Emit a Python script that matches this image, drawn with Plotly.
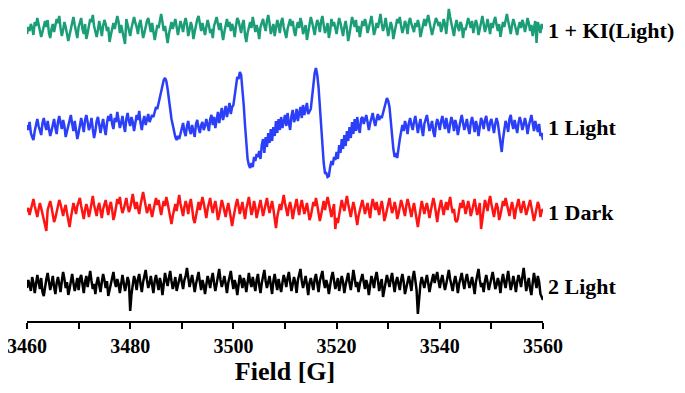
import plotly.graph_objects as go

# EPR spectra, field axis 3460-3560 G sampled every 0.25 G
field_start = 3460
field_step = 0.25

labels = ["1 + KI(Light)", "1 Light", "1 Dark", "2 Light"]
colors = ["#1b9e77", "#2a3ff7", "#ff1414", "#000000"]
offsets = [291, 194, 109, 35]

ki_light = [
    -4, 3, -1, 6, 2, -5, 8, 4, 12, 6, 1, -7, -2, 5, 9, 3, 10, -3, -8, 1,
    6, -2, 4, 11, 7, 14, 2, -6, 0, 8, 3, -4, -11, -5, 2, 9, 13, 5, -1, -8,
    3, 7, 12, 1, -4, 6, -9, -3, 5, 11, 8, 15, 4, -2, -7, 0, 9, 2, -6, 4,
    10, 6, -1, 3, -12, -5, 2, 7, 1, 9, 14, 8, -3, 5, -1, -9, -14, 11, 6, 0,
    -6, 2, 8, 13, 7, 3, -4, 6, 10, 1, -8, -3, 4, 9, 12, 5, -2, 7, 0, -10,
    -3, 5, 2, 10, 16, 8, -1, 4, -7, -13, -4, 3, 8, 1, 6, 11, 3, -5, 2, 9,
    4, -2, 7, 12, 5, -6, 0, 8, 3, -9, -2, 6, 11, 14, 4, -1, 7, 2, -5, 3,
    10, 5, -3, 1, -8, 4, 9, 13, 6, 0, 7, -4, -10, -2, 5, 11, 3, 8, -1, 6,
    2, -7, 4, 12, 9, 1, -3, 6, 10, -5, -12, -3, 4, 8, 2, 13, 6, -2, 5, 0,
    -9, 3, 7, 11, 4, -1, 9, 15, 7, -4, 1, 6, -6, 2, 10, 5, -3, 8, 12, 3,
    -2, -8, 1, 6, 11, 4, 9, -1, -6, 3, 8, 2, 12, 7, -4, 0, 5, -10, -3, 6,
    13, 8, 2, -5, 4, 10, 6, -2, 9, 14, 5, -3, 1, 7, -8, -1, 11, 4, 8, 0,
    -4, 5, 12, 7, 2, -6, 3, 9, 1, -11, -4, 6, 13, 8, 3, 10, -2, 4, -7, 1,
    9, 4, 11, 6, -3, 2, 8, 14, 5, -5, 0, 7, 2, 10, 16, 6, -1, 4, 12, 3,
    -6, 1, 8, 3, -9, -2, 5, 11, 7, 13, 4, -3, 2, 9, 5, -4, 8, 12, 6, 1,
    -2, 7, 3, 10, 5, -7, 0, 6, 11, 4, 9, 15, 8, 3, -5, 1, 7, 12, 9, 4,
    8, -2, 3, 11, 6, -4, 9, 21, 13, 7, 1, -6, 4, 10, 3, -1, 8, 5, -8, 2,
    0, 6, 12, 7, 2, 9, -3, 4, 10, 5, -5, 1, 8, 14, 6, -2, 3, 11, 4, -4,
    7, 2, 9, 13, 5, -1, 6, -7, 1, 8, 3, 10, 16, 9, 2, -4, 5, 11, 6, 0,
    -5, 3, 8, 2, 10, 6, -2, 4, 12, 7, -1, 5, -6, 2, 9, -13, 8, 3, -3, 6,
    1,
]

light_1 = [
    2, -3, 5, -6, -10, -13, -4, 3, 8, 1, -5, -8, 4, 9, 2, -3, 6, -2, -9, -4,
    3, 8, -1, -7, 5, 11, 4, -2, 7, 1, -10, -5, 2, 8, 12, 3, -4, 6, -3, -12,
    -6, 4, 9, 2, -5, 7, 12, 5, -3, 1, 9, -2, -11, -4, 6, 10, 3, -6, 2, 8,
    -1, -8, 4, 11, 6, 13, 3, -2, 9, 5, 15, 8, -1, 4, 11, 2, -5, 8, 14, 6,
    1, 10, 5, -4, 3, 12, 7, 16, 4, -3, 6, 11, 2, 9, 13, 5, 8, 12, 10, 16,
    20, 18, 24, 32, 38, 44, 47, 49, 46, 38, 28, 16, 8, 2, -5, -10, -13, -9, -12, -6,
    -2, 4, -5, -9, 1, 6, -3, -7, 2, -4, -10, 3, 7, -1, -6, 2, 5, -3, 1, 8,
    3, -4, 8, 12, 2, 10, -1, 8, 15, 4, 12, 19, 7, 15, 21, 10, 17, 24, 13, 20,
    22, 30, 42, 50, 48, 55, 52, 40, 22, 2, -18, -32, -38, -41, -36, -40, -30, -34, -27, -30,
    -24, -32, -18, -12, -26, -10, -20, -6, -16, -2, -14, 0, -9, 6, -6, 8, -3, 10, -1, 4,
    12, 1, 14, 4, -3, 11, 17, 5, 9, 18, 6, 14, 20, 9, 22, 12, 18, 24, 13, 16,
    18, 30, 45, 54, 59, 52, 40, 20, 0, -20, -36, -46, -46, -50, -49, -40, -34, -38, -30, -33,
    -25, -32, -18, -26, -12, -22, -8, -19, -4, -14, 0, -11, 5, -7, 8, -4, 10, -1, -6, 8,
    10, 3, 7, 12, 5, -3, 4, 9, 14, 6, 1, 8, 13, 7, 11, 9, 14, 18, 24, 29,
    26, 20, 6, -10, -22, -30, -26, -31, -20, -12, -5, 2, -4, 6, 1, -7, 4, 9, 2, -3,
    5, 11, 3, -6, 2, 8, -2, -9, 3, 7, 12, 4, -4, 1, 6, -5, -10, 2, 8, 3,
    -3, 6, 11, 4, -2, 9, 1, -6, 3, 10, 5, -4, 7, 2, -8, 1, 6, 12, 4, -3,
    2, 8, -1, -7, 4, 10, 3, -5, 6, 1, -9, 3, 9, 5, -2, 7, 11, 2, -4, 5,
    8, 1, -6, 3, 9, 4, -8, -16, -25, -12, -3, 6, 2, -5, 8, 12, 3, -2, 7, 1,
    -6, 4, 10, 5, -3, 2, 9, 3, -7, 1, 8, 12, 4, -4, 6, 1, -5, 3, -9, -6,
    -13,
]

dark_1 = [
    0, 4, -3, 2, 8, 13, 6, 1, -5, 3, 9, 4, -2, -8, -12, -19, 2, 7, 11, 5,
    -3, -10, -6, 1, 5, 12, 8, 2, -4, 3, 7, -1, -9, -15, -6, 3, 9, 4, -2, 6,
    10, 14, 6, -1, -7, 2, 8, 3, -5, 1, 11, 16, 7, 2, -4, 5, 9, 1, -6, 3,
    7, 12, 4, -3, 6, 10, 2, -8, -3, 4, 13, 8, 15, 5, -1, 3, 9, 14, 6, 0,
    4, 11, 18, 9, 3, 10, 5, -2, 7, 12, 20, 13, 6, -1, 3, 8, 1, -5, 2, 9,
    14, 7, 12, 4, -3, 5, 11, 6, 15, 9, 2, -6, -12, -4, 3, 8, 1, 10, 17, 8,
    3, -4, 5, 11, 6, -2, 8, 13, 4, -7, -11, -3, 5, 10, 2, 7, 15, 9, 1, -6,
    3, 9, 14, 5, -1, 6, 11, 3, -8, -3, 4, 12, 7, 1, -5, 3, 9, 2, -9, -14,
    -6, 2, 8, 13, 5, -2, 4, 10, 1, -7, 3, 9, 15, 6, -3, 2, 11, 5, -6, 0,
    7, 12, 4, -4, 2, 9, 14, 6, -1, 5, 11, 3, -10, -16, -5, 3, 8, 2, 11, 17,
    9, 2, -4, 5, 10, 3, -7, 1, 8, 13, 4, -3, 6, 12, 5, -2, 3, 9, 1, -8,
    -4, 3, 10, 6, 14, 7, -1, -9, -3, 4, 11, 2, 7, 15, 9, 1, -5, 2, 8, -17,
    -6, -11, -2, 5, 12, 6, 1, 9, 16, 8, 2, -5, 3, 10, 4, -8, -13, -4, 3, 7,
    12, 5, -2, 4, 9, 1, -6, 6, 13, 7, 2, 10, 4, -3, 5, 11, 3, -9, -4, 2,
    8, 14, 6, -1, 3, 10, 4, -7, -2, 5, 12, 7, 1, -4, 6, 13, 8, 2, -5, 3,
    9, 1, -8, -15, -6, 3, 11, 5, -2, 4, 9, 2, -6, 1, 7, 14, 8, -4, -10, 0,
    6, 12, 4, -3, 5, 10, 2, 8, 15, 6, -1, 3, -8, -10, -7, 2, 9, 4, 12, 6,
    -2, 4, 11, 5, -4, 1, 8, 13, 5, -3, 2, 9, -17, -6, 5, 12, 7, 1, 10, 16,
    8, 2, -5, 3, 9, 4, -8, -3, 5, 11, 6, 14, 8, 1, -4, 4, 10, 3, -7, 2,
    8, 13, 5, -1, 6, 11, 4, -3, 2, 9, 12, 5, -2, -9, -3, 4, 10, 6, -5, 1,
    3,
]

light_2 = [
    -2, 6, 1, -5, 9, 3, -7, 2, 11, 4, -3, 8, -6, -10, 1, 7, 13, 5, -4, 2,
    10, -1, -8, 3, 9, 2, -6, 5, 14, 7, -2, 4, -9, -3, 6, 12, 3, -5, 1, 8,
    -4, 7, 11, 2, -7, 4, 10, -1, 6, 15, 5, -3, 2, -8, 3, 9, 1, -6, 4, 12,
    6, -2, 5, -10, -4, 3, 8, 14, 4, -1, 7, 2, -7, 5, 11, 3, -5, 1, 9, 4,
    -25, -8, 3, 10, 5, -4, 7, 12, 2, -6, 4, 9, 16, 6, -2, 3, 10, 1, -7, 5,
    11, 3, -4, 8, 2, -9, 4, 13, 6, 0, 8, 15, 5, -3, 2, 9, -5, 1, 7, 12,
    4, -3, 6, 10, 18, 7, -1, 5, 11, 3, -6, 2, 9, 14, 4, -4, 6, 1, -8, 3,
    10, 5, -2, 7, 13, 3, -5, 2, 8, 17, 6, -1, 4, 10, 2, -7, 3, 9, 15, 5,
    -3, 6, 1, -9, 4, 11, 5, -2, 8, 3, -6, 7, 13, 4, -1, 9, 2, -5, 6, 12,
    1, -7, 3, 9, 16, 5, -2, 4, 10, 1, -8, 5, 12, 3, -4, 7, 2, -6, 3, 11,
    6, -1, 8, 14, 4, -5, 2, 9, 3, -7, 6, 13, 17, 5, -2, 4, 10, 1, -9, 3,
    8, 2, -4, 7, 12, 3, -6, 5, 11, 15, 4, -2, 6, 1, -8, 4, 9, 14, 5, -3,
    2, 8, -5, 3, 10, 4, -7, 1, 7, 13, 3, -4, 5, 16, 8, -1, 4, -6, 2, 9,
    12, 4, -3, 6, 1, -9, 3, 10, 5, -2, 8, 14, 6, -5, 2, 7, -11, -4, 4, 11,
    5, -1, 7, 13, 3, -6, 4, 9, 2, -4, 6, 12, 4, -8, -2, 5, 10, 3, -5, 8,
    15, 6, -4, -28, -9, 2, 9, 4, -2, 5, 11, 3, -6, 1, 8, 12, 3, 8, 14, 5,
    -2, 6, 11, 3, -4, 2, 9, 16, 7, 1, -5, 4, 10, 3, -7, 2, 8, 13, 4, -3,
    6, 12, 5, -2, 3, 9, 1, -8, 4, 10, 17, 6, -1, 3, -6, 5, 11, 4, -4, 2,
    9, 14, 6, -3, 1, 8, 3, -7, 5, 12, 4, -2, 7, 15, 5, -4, 2, 10, 3, -6,
    4, 11, 6, -1, 9, 18, 7, -5, 2, 8, -3, -9, 3, 13, 5, -2, 10, 4, -8, -12,
    -14,
]

tick_vals = [3460, 3470, 3480, 3490, 3500, 3510, 3520, 3530, 3540, 3550, 3560]
tick_text = ["3460", "", "3480", "", "3500", "", "3520", "", "3540", "", "3560"]

spectra = [ki_light, light_1, dark_1, light_2]

fig = go.Figure()
for name, ys, color, off in zip(labels, spectra, colors, offsets):
    fig.add_trace(
        go.Scatter(
            x0=field_start,
            dx=field_step,
            y=[v + off for v in ys],
            mode="lines",
            name=name,
            line=dict(color=color, width=2.5),
            showlegend=False,
        )
    )
    fig.add_annotation(
        x=3560, y=off, xref="x", yref="y",
        text=name, showarrow=False,
        xanchor="left", yanchor="middle", xshift=3,
        font=dict(family="Liberation Serif", size=22, color="black", weight="bold"),
    )

# page body adds an 8 px margin, so the figure is a bit smaller than the window
fig.update_layout(
    width=677,
    height=385,
    margin=dict(l=19, r=142, t=0, b=72),
    plot_bgcolor="white",
    paper_bgcolor="white",
)

fig.update_xaxes(
    range=[3460, 3560],
    automargin=False,
    ticklabeloverflow="allow",
    tickvals=tick_vals,
    ticktext=tick_text,
    ticks="outside",
    ticklen=6,
    tickwidth=1.5,
    tickcolor="black",
    showline=True,
    linecolor="black",
    linewidth=1.5,
    showgrid=False,
    zeroline=False,
    tickfont=dict(family="Liberation Serif", size=20, color="black", weight="bold"),
    title=dict(
        text="Field [G]",
        font=dict(family="Liberation Serif", size=26, color="black", weight="bold"),
        standoff=6,
    ),
)

fig.update_yaxes(range=[0, 313], visible=False, showgrid=False, zeroline=False,
                 automargin=False)

fig.write_html("out.html")
